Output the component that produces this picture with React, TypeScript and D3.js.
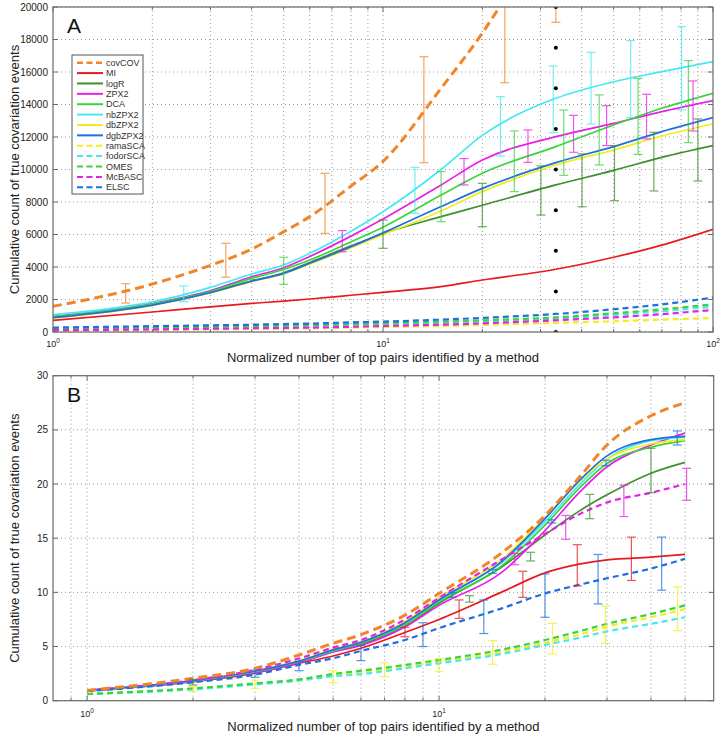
import React from 'react';
import * as d3 from 'd3';

const methods = ['covCOV', 'MI', 'logR', 'ZPX2', 'DCA', 'nbZPX2', 'dbZPX2', 'dgbZPX2', 'ramaSCA', 'fodorSCA', 'OMES', 'McBASC', 'ELSC'];
const methodColors = ['#f0852a', '#e8191f', '#3f8f2f', '#e620e6', '#3cd23c', '#45e8f2', '#f2ee1e', '#1e6fe0', '#f2ee1e', '#45e8f2', '#3cd23c', '#e620e6', '#1e6fe0'];
const methodDashed = [true, false, false, false, false, false, false, false, true, true, true, true, true];

// ---------- Panel A ----------
const xA = [1, 2, 3, 4, 5, 6, 8, 10, 15, 20, 33.4, 50, 70, 100];
const A_covCOV = [1580, 2950, 4100, 5100, 6170, 7100, 8980, 10500, 15000, 18400, 26000, 33000, 39000, 47000];
const A_MI = [720, 1230, 1550, 1760, 1900, 2030, 2260, 2440, 2790, 3200, 3860, 4600, 5350, 6320];
const A_logR = [900, 1680, 2450, 3150, 3650, 4280, 5300, 6050, 7100, 7800, 9050, 9950, 10750, 11470];
const A_ZPX2 = [950, 1750, 2550, 3400, 3950, 4650, 5900, 6950, 9050, 10580, 12020, 12840, 13560, 14240];
const A_DCA = [950, 1720, 2500, 3300, 3850, 4430, 5550, 6450, 8430, 9770, 11410, 12740, 13770, 14690];
const A_nbZPX2 = [1070, 1850, 2750, 3570, 4120, 4840, 6200, 7400, 10000, 12100, 14380, 15400, 16020, 16640];
const A_dbZPX2 = [850, 1640, 2400, 3100, 3580, 4180, 5180, 5980, 7450, 8640, 10280, 11200, 12060, 12800];
const A_dgbZPX2 = [880, 1650, 2420, 3120, 3610, 4230, 5250, 6100, 7720, 8840, 10420, 11410, 12330, 13190];
const A_ramaSCA = [80, 120, 160, 190, 210, 230, 270, 310, 370, 430, 560, 660, 760, 860];
const A_fodorSCA = [230, 300, 330, 360, 380, 400, 450, 490, 570, 650, 820, 1050, 1280, 1560];
const A_OMES = [200, 280, 320, 360, 390, 420, 480, 540, 630, 720, 900, 1150, 1400, 1700];
const A_McBASC = [110, 160, 200, 230, 250, 270, 320, 370, 450, 530, 720, 900, 1100, 1360];
const A_ELSC = [270, 360, 410, 450, 490, 520, 590, 640, 760, 870, 1110, 1400, 1700, 2120];
const seriesA = [A_covCOV, A_MI, A_logR, A_ZPX2, A_DCA, A_nbZPX2, A_dbZPX2, A_dgbZPX2, A_ramaSCA, A_fodorSCA, A_OMES, A_McBASC, A_ELSC];

// error bars: [method, x, low, high]
const errA: [string, number, number, number][] = [
  ['covCOV', 1.66, 1780, 2970], ['nbZPX2', 2.49, 1870, 2830], ['covCOV', 3.34, 3370, 5460],
  ['DCA', 5.0, 2930, 4600], ['covCOV', 6.67, 6070, 9770], ['ZPX2', 7.53, 4940, 6240],
  ['logR', 10, 5150, 6890], ['nbZPX2', 12.5, 7300, 10135], ['covCOV', 13.3, 10420, 16940],
  ['DCA', 15.0, 6790, 9870], ['ZPX2', 17.6, 9050, 10670], ['logR', 20.0, 6480, 9150],
  ['nbZPX2', 22.7, 10830, 14480], ['covCOV', 23.4, 15340, 26000], ['DCA', 25.0, 8640, 12370],
  ['ZPX2', 27.5, 10440, 12430], ['logR', 30.1, 7200, 10220], ['nbZPX2', 32.8, 12270, 16370],
  ['covCOV', 33.4, 19060, 30000], ['DCA', 35.3, 9640, 13660], ['ZPX2', 37.8, 11060, 13330],
  ['logR', 40.1, 7710, 10960], ['nbZPX2', 42.7, 12800, 17210], ['DCA', 45.2, 10280, 14590],
  ['ZPX2', 47.6, 11470, 13930], ['logR', 50.3, 8080, 11470], ['nbZPX2', 56.3, 13190, 17930],
  ['DCA', 59.3, 10930, 15610], ['ZPX2', 62.9, 11880, 14630], ['logR', 66.2, 8680, 12290],
  ['nbZPX2', 80.3, 13660, 18790], ['DCA', 84.2, 11650, 16700], ['ZPX2', 87.0, 12370, 15450],
  ['logR', 90.0, 9290, 13110],
];
const dotsAx = 33.4;
const dotsAy = [0, 2500, 5000, 7500, 10000, 12500, 15000, 17500, 20000];
const yTicksA = [0, 2000, 4000, 6000, 8000, 10000, 12000, 14000, 16000, 18000, 20000];
const xGridA = [2, 3, 4, 5, 6, 7, 8, 9, 10, 20, 30, 40, 50, 60, 70, 80, 90];
const xMajorA = [1, 10, 100];
const xMajorLabelsA = ['0', '1', '2'];

// ---------- Panel B ----------
const xB = [1, 2, 3, 4, 5, 6, 8, 10, 15, 20, 25, 30, 40, 50];
const B_covCOV = [0.95, 2.07, 2.99, 4.22, 5.3, 6.1, 7.9, 9.9, 13.6, 17.1, 20.6, 23.6, 26.3, 27.5];
const B_MI = [0.9, 1.75, 2.55, 3.45, 4.13, 4.84, 6.3, 7.5, 10.0, 11.8, 12.6, 13.0, 13.25, 13.5];
const B_logR = [0.93, 1.8, 2.65, 3.55, 4.55, 5.2, 6.9, 9.0, 12.3, 15.3, 17.5, 19.0, 21.0, 22.0];
const B_ZPX2 = [0.9, 1.78, 2.6, 3.5, 4.5, 5.1, 6.8, 8.8, 11.8, 15.7, 19.2, 21.6, 23.6, 24.7];
const B_DCA = [0.93, 1.82, 2.68, 3.6, 4.6, 5.3, 7.0, 9.1, 12.4, 16.2, 19.6, 21.9, 23.4, 24.0];
const B_nbZPX2 = [0.95, 1.85, 2.72, 3.65, 4.7, 5.4, 7.2, 9.4, 12.7, 16.5, 19.9, 22.3, 24.0, 24.3];
const B_dbZPX2 = [0.95, 1.85, 2.75, 3.7, 4.75, 5.45, 7.3, 9.5, 13.0, 16.9, 20.2, 22.3, 23.7, 24.1];
const B_dgbZPX2 = [0.95, 1.85, 2.72, 3.65, 4.7, 5.4, 7.2, 9.3, 12.8, 16.8, 20.3, 22.6, 24.1, 24.4];
const B_ramaSCA = [0.62, 1.1, 1.55, 1.9, 2.35, 2.65, 3.15, 3.6, 4.5, 5.35, 6.1, 6.85, 7.7, 8.45];
const B_fodorSCA = [0.6, 1.05, 1.5, 1.85, 2.25, 2.45, 3.0, 3.45, 4.3, 5.14, 5.8, 6.4, 7.1, 7.7];
const B_OMES = [0.62, 1.14, 1.6, 1.97, 2.46, 2.77, 3.3, 3.76, 4.7, 5.6, 6.4, 7.1, 8.0, 8.8];
const B_McBASC = [0.95, 1.9, 2.85, 3.9, 4.9, 5.6, 7.5, 9.5, 13.0, 15.4, 17.2, 18.3, 19.2, 20.0];
const B_ELSC = [0.88, 1.7, 2.4, 3.3, 3.91, 4.6, 5.6, 6.7, 8.5, 9.9, 10.7, 11.3, 12.2, 13.1];
const seriesB = [B_covCOV, B_MI, B_logR, B_ZPX2, B_DCA, B_nbZPX2, B_dbZPX2, B_dgbZPX2, B_ramaSCA, B_fodorSCA, B_OMES, B_McBASC, B_ELSC];

const errB: [string, number, number, number][] = [
  ['logR', 2, 1.45, 1.97], ['ramaSCA', 2, 0.85, 1.3], ['ELSC', 3, 2.16, 2.83], ['ramaSCA', 3, 1.14, 1.9],
  ['ELSC', 4, 2.77, 3.6], ['ramaSCA', 5, 1.66, 2.77], ['ELSC', 6, 3.7, 5.1], ['ramaSCA', 7, 2.22, 3.5],
  ['MI', 8, 5.9, 6.78], ['ELSC', 9, 5.0, 7.2], ['ramaSCA', 10, 2.68, 3.9], ['dgbZPX2', 10.9, 9.54, 9.97],
  ['MI', 11.4, 7.6, 9.3], ['logR', 12.2, 9.1, 9.7], ['ELSC', 13.4, 6.2, 9.3], ['dgbZPX2', 14.2, 11.75, 12.12],
  ['ramaSCA', 14.2, 3.36, 5.54], ['McBASC', 16.4, 12.55, 13.6], ['MI', 17.3, 9.54, 11.95], ['logR', 18.2, 12.9, 13.7],
  ['ELSC', 20, 7.7, 11.7], ['dgbZPX2', 20.9, 16.4, 16.7], ['ramaSCA', 21, 4.31, 7.14], ['McBASC', 22.9, 14.9, 17.1],
  ['MI', 24.7, 10.6, 14.4], ['logR', 26.8, 16.8, 19.05], ['ELSC', 28.3, 8.93, 13.5], ['dgbZPX2', 29.8, 21.7, 22.2],
  ['ramaSCA', 29.7, 5.3, 8.74], ['McBASC', 33.5, 17.0, 19.9], ['MI', 35.2, 11.1, 15.1], ['logR', 40, 19.2, 23.3],
  ['ELSC', 42.9, 10.2, 15.1], ['dgbZPX2', 47.5, 23.6, 24.9], ['ramaSCA', 47.6, 6.46, 10.5], ['McBASC', 50.5, 18.5, 21.45],
];
const yTicksB = [0, 5, 10, 15, 20, 25, 30];
const xGridB = [0.9, 1, 2, 3, 4, 5, 6, 7, 8, 9, 10, 20, 30, 40, 50];
const xMajorB = [1, 10];
const xMajorLabelsB = ['0', '1'];

const FONT = 'Liberation Sans, Arial, Helvetica, sans-serif';
const GRID = '#9a9a9a';
const AXIS = '#6a6a6a';

function colorOf(m: string) {
  return methodColors[methods.indexOf(m)];
}

type PanelProps = {
  id: string;
  left: number; right: number; top: number; bottom: number;
  xDomain: [number, number]; yDomain: [number, number];
  xs: number[]; series: number[][];
  errs: [string, number, number, number][];
  yTicks: number[]; xGrid: number[]; xMajor: number[]; xMajorLabels: string[];
  letter: string; xLabelY: number; tickLabelY: number;
};

function Panel(p: PanelProps) {
  const x = d3.scaleLog().domain(p.xDomain).range([p.left, p.right]);
  const y = d3.scaleLinear().domain(p.yDomain).range([p.bottom, p.top]);
  const line = d3.line<number>().x((_, i) => x(p.xs[i])).y((d) => y(d)).curve(d3.curveMonotoneX);
  const order = [1, 2, 3, 4, 5, 6, 7, 8, 9, 10, 11, 12, 0];
  const minorTicks = p.xGrid.filter((v) => !p.xMajor.includes(v));
  const clipId = 'clip' + p.id;
  return (
    <g>
      <defs>
        <clipPath id={clipId}>
          <rect x={p.left} y={p.top} width={p.right - p.left} height={p.bottom - p.top} />
        </clipPath>
      </defs>
      <rect x={p.left} y={p.top} width={p.right - p.left} height={p.bottom - p.top} fill="#fff" />
      {p.yTicks.map((t) => (
        <line key={'gy' + t} x1={p.left} x2={p.right} y1={y(t)} y2={y(t)} stroke={GRID} strokeWidth={1} strokeDasharray="1,3" />
      ))}
      {p.xGrid.map((t) => (
        <line key={'gx' + t} x1={x(t)} x2={x(t)} y1={p.top} y2={p.bottom} stroke={GRID} strokeWidth={1} strokeDasharray="1,3" />
      ))}
      <g clipPath={`url(#${clipId})`}>
        {order.map((i) => (
          <path
            key={'s' + i}
            d={line(p.series[i]) || ''}
            fill="none"
            stroke={methodColors[i]}
            strokeWidth={i === 0 ? 3 : methodDashed[i] ? 2.2 : 1.7}
            strokeDasharray={i === 0 ? '9,5' : methodDashed[i] ? '6,4' : undefined}
          />
        ))}
        {p.errs.map((e, k) => {
          const cx = x(e[1]);
          const c = colorOf(e[0]);
          return (
            <g key={'e' + k} stroke={c} strokeWidth={1.2} opacity={0.75}>
              <line x1={cx} x2={cx} y1={y(e[2])} y2={y(e[3])} />
              <line x1={cx - 4.5} x2={cx + 4.5} y1={y(e[2])} y2={y(e[2])} />
              <line x1={cx - 4.5} x2={cx + 4.5} y1={y(e[3])} y2={y(e[3])} />
            </g>
          );
        })}
        {p.id === 'A' && dotsAy.map((v) => <circle key={'d' + v} cx={x(dotsAx)} cy={y(v)} r={2} fill="#000" />)}
      </g>
      <rect x={p.left} y={p.top} width={p.right - p.left} height={p.bottom - p.top} fill="none" stroke={AXIS} strokeWidth={1.2} />
      {p.yTicks.map((t) => (
        <g key={'yt' + t}>
          <line x1={p.left} x2={p.left + 5} y1={y(t)} y2={y(t)} stroke={AXIS} />
          <line x1={p.right - 5} x2={p.right} y1={y(t)} y2={y(t)} stroke={AXIS} />
          <text x={p.left - 5} y={y(t) + 3.5} textAnchor="end" fontSize={10} fill="#222" fontFamily={FONT}>{t}</text>
        </g>
      ))}
      {p.xMajor.map((t, k) => (
        <g key={'xt' + t}>
          <line x1={x(t)} x2={x(t)} y1={p.bottom} y2={p.bottom - 5} stroke={AXIS} />
          <line x1={x(t)} x2={x(t)} y1={p.top} y2={p.top + 5} stroke={AXIS} />
          <text x={x(t)} y={p.tickLabelY} textAnchor="middle" fontSize={9} fill="#222" fontFamily={FONT}>
            10<tspan fontSize={6.5} dy={-4.5}>{p.xMajorLabels[k]}</tspan>
          </text>
        </g>
      ))}
      {minorTicks.map((t) => (
        <g key={'xm' + t}>
          <line x1={x(t)} x2={x(t)} y1={p.bottom} y2={p.bottom - 3} stroke={AXIS} />
          <line x1={x(t)} x2={x(t)} y1={p.top} y2={p.top + 3} stroke={AXIS} />
        </g>
      ))}
      <text x={p.left + 14} y={p.top + 26} fontSize={21} fill="#111" fontFamily={FONT}>{p.letter}</text>
      <text x={(p.left + p.right) / 2} y={p.xLabelY} textAnchor="middle" fontSize={13} fill="#222" fontFamily={FONT}>
        Normalized number of top pairs identified by a method
      </text>
      <text
        transform={`translate(19,${(p.top + p.bottom) / 2}) rotate(-90)`}
        textAnchor="middle"
        fontSize={13}
        fill="#222"
        fontFamily={FONT}
      >
        Cumulative count of true covariation events
      </text>
    </g>
  );
}

function Legend() {
  const lx = 72, ly = 55, w = 71, h = 139, step = 10.38;
  return (
    <g>
      <rect x={lx} y={ly} width={w} height={h} fill="#fff" stroke="#555" strokeWidth={1} />
      {methods.map((m, i) => {
        const yy = ly + 7.7 + i * step;
        return (
          <g key={m}>
            <line x1={lx + 5} x2={lx + 31} y1={yy} y2={yy} stroke={methodColors[i]} strokeWidth={i === 0 ? 2.4 : 2}
              strokeDasharray={methodDashed[i] ? '6,3.5' : undefined} />
            <text x={lx + 34} y={yy + 3.2} fontSize={9} fill="#333" fontFamily={FONT}>{m}</text>
          </g>
        );
      })}
    </g>
  );
}

export default function App() {
  return (
    <svg width={724} height={737} style={{ position: 'absolute', left: 0, top: 0, background: '#fff' }}>
      <rect x={0} y={0} width={724} height={737} fill="#fff" />
      <Panel
        id="A" left={53} right={713} top={7} bottom={332}
        xDomain={[1, 100]} yDomain={[0, 20000]}
        xs={xA} series={seriesA} errs={errA}
        yTicks={yTicksA} xGrid={xGridA} xMajor={xMajorA} xMajorLabels={xMajorLabelsA}
        letter="A" xLabelY={362} tickLabelY={347}
      />
      <Legend />
      <Panel
        id="B" left={53} right={713.7} top={375.7} bottom={700.7}
        xDomain={[0.8, 60.3]} yDomain={[0, 30]}
        xs={xB} series={seriesB} errs={errB}
        yTicks={yTicksB} xGrid={xGridB} xMajor={xMajorB} xMajorLabels={xMajorLabelsB}
        letter="B" xLabelY={731} tickLabelY={717}
      />
    </svg>
  );
}
